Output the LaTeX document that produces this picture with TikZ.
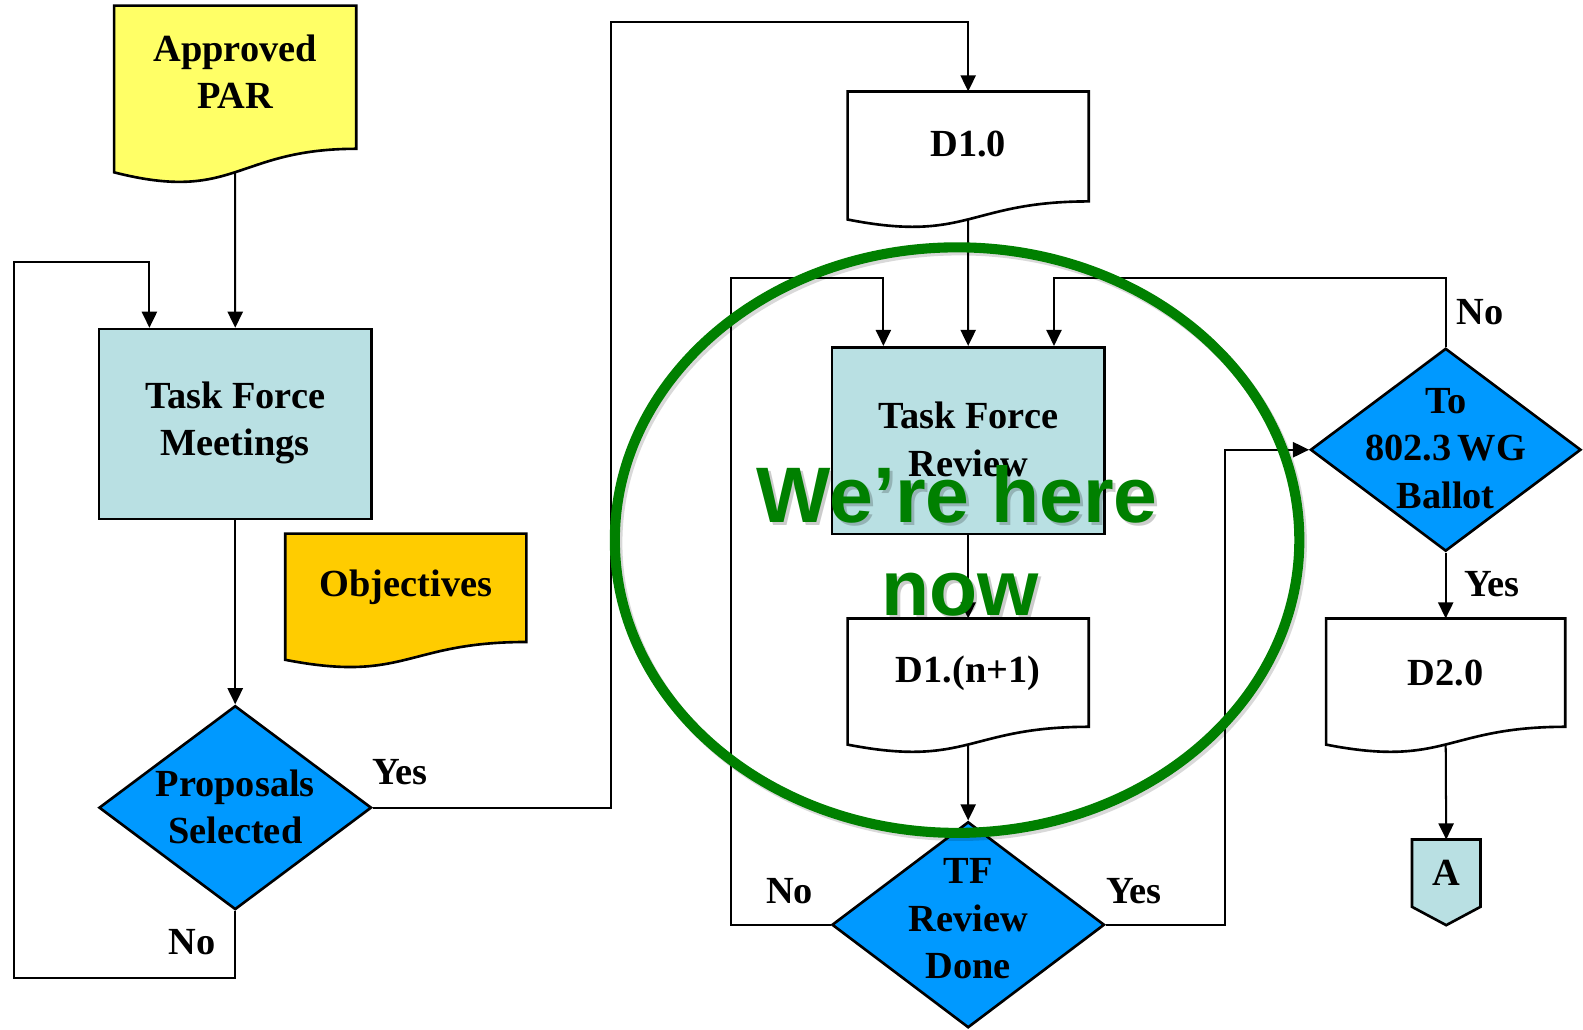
\documentclass[tikz,border=0pt]{standalone}
\usepackage{fontspec}
\setmainfont{Liberation Serif}
\newfontfamily\hereFont{Liberation Sans}
\usetikzlibrary{shapes.geometric,arrows.meta,calc}
\definecolor{lblue}{HTML}{B9E0E3}
\definecolor{parY}{HTML}{FFFF66}
\definecolor{objO}{HTML}{FFCC00}
\definecolor{dblue}{HTML}{0099FF}
\definecolor{hgreen}{HTML}{008000}
\tikzset{
  outl/.style={line width=1.3pt, draw=black},
  procbox/.style={outl, rectangle, fill=lblue, inner sep=0pt},
  decbox/.style={outl, diamond, fill=dblue, inner sep=0pt},
  docframe/.style={rectangle, inner sep=0pt, draw=none},
  txt/.style={font=\bfseries\fontsize{19}{23.5}\selectfont, align=center, inner sep=0pt},
  lbl/.style={font=\bfseries\fontsize{19}{23.5}\selectfont, inner sep=0pt},
  arr/.style={line width=1pt, -{Triangle[length=8pt,width=7.5pt]}},
  con/.style={line width=1pt},
  heretxt/.style={font=\hereFont\bfseries\fontsize{39}{46}\selectfont, text=hgreen, inner sep=0pt, anchor=base},
  heresh/.style={font=\hereFont\bfseries\fontsize{39}{46}\selectfont, text=black, opacity=0.2, inner sep=0pt, anchor=base},
}
\newcommand\docshape[2]{%
  \path[outl, fill=#2] let \p1=(#1.north west), \p2=(#1.south east) in
    (\x1,\y1) -- (\x2,\y1) -- (\x2,{\y1+0.802*((\y2)-(\y1))})
    .. controls ({0.5*\x1+0.5*\x2},{\y1+0.802*((\y2)-(\y1))}) and ({0.5*\x1+0.5*\x2},{\y1+1.1075*((\y2)-(\y1))}) ..
    (\x1,{\y1+0.934*((\y2)-(\y1))}) -- cycle;}
\begin{document}
\begin{tikzpicture}[x=0.5pt,y=-0.5pt]
\useasboundingbox (0,0) rectangle (1568,1020);

% documents
\node[docframe, minimum width=119.5pt, minimum height=88pt] (par) at (233,94) {};
\docshape{par}{parY}
\node[txt] (parT) at (233,71) {Approved\\PAR};

\node[docframe, minimum width=119pt, minimum height=66.5pt] (obj) at (402,595.5) {};
\docshape{obj}{objO}
\node[txt] (objT) at (402,582) {Objectives};

\node[docframe, minimum width=119pt, minimum height=67.5pt] (d1) at (959,158.5) {};
\docshape{d1}{white}
\node[txt] (d1T) at (959,143) {D1.0};

\node[docframe, minimum width=119pt, minimum height=66.5pt] (dn) at (959,679.5) {};
\docshape{dn}{white}
\node[txt] (dnT) at (959,667) {D1.(n+1)};

\node[docframe, minimum width=118pt, minimum height=66.5pt] (d2) at (1432,679.5) {};
\docshape{d2}{white}
\node[txt] (d2T) at (1432,667) {D2.0};

% process boxes
\node[procbox, minimum width=135pt, minimum height=94pt] (tfm) at (233,420) {};
\node[txt] (tfmT) at (233,419) {Task Force\\Meetings};
\node[procbox, minimum width=135pt, minimum height=92.5pt] (tfr) at (959,436.5) {};
\node[txt] (tfrT) at (959,435) {Task Force\\Review};

% decisions
\node[decbox, minimum width=135pt, minimum height=101pt] (prop) at (233,800) {};
\node[txt] (propT) at (233,799) {Proposals\\Selected};
\node[decbox, minimum width=135pt, minimum height=102pt] (tfrd) at (959,916) {};
\node[txt] (tfrdT) at (959,910) {TF\\Review\\Done};
\node[decbox, minimum width=134pt, minimum height=100.5pt] (ballot) at (1432,445.5) {};
\node[txt] (ballotT) at (1432,444) {To\\802.3\,WG\\Ballot};

% off-page connector
\node[docframe, minimum width=33.5pt, minimum height=42pt] (aconn) at (1432.5,874) {};
\draw[outl, fill=lblue] (aconn.north west) -- (aconn.north east)
  -- ($(aconn.north east)!0.786!(aconn.south east)$) -- (aconn.south)
  -- ($(aconn.north west)!0.786!(aconn.south west)$) -- cycle;
\node[lbl] (aT) at (1432.5,865) {A};

% helper coordinates
\coordinate (parW) at ($(par.north)!0.933!(par.south)$);
\coordinate (d1W) at ($(d1.north)!0.933!(d1.south)$);
\coordinate (dnW) at ($(dn.north)!0.933!(dn.south)$);
\coordinate (d2W) at ($(d2.north)!0.933!(d2.south)$);
\coordinate (l1) at (14,969);
\coordinate (l2) at (148,260);
\coordinate (r1) at (605,22);
\coordinate (l3) at (724,275);
\coordinate (inA) at (875,275);
\coordinate (inB) at (1044,275);
\coordinate (r2) at (1213,445.5);

% connectors
\draw[arr] (parW) -- (tfm.north);
\draw[arr] (tfm.south) -- (prop.north);
\draw[arr] (prop.south) |- (l1) |- (l2) -- (l2 |- tfm.north);
\draw[arr] (prop.east) -| (r1) -| (d1.north);
\draw[arr] (d1W) -- (tfr.north);
\draw[arr] (tfrd.west) -| (l3) -- (inA) -- (inA |- tfr.north);
\draw[arr] (ballot.north) |- (inB) -- (inB |- tfr.north);
\draw[arr] (tfr.south) -- (dn.north);
\draw[arr] (dnW) -- (tfrd.north);
\draw[arr] (tfrd.east) -| (r2) -- (ballot.west);
\draw[arr] (ballot.south) -- (d2.north);
\draw[arr] (d2W) -- (aconn.north);

% labels
\node[lbl] (yes1) at (396,765) {Yes};
\node[lbl] (no1) at (190,933) {No};
\node[lbl] (no2) at (782,883) {No};
\node[lbl] (yes2) at (1123,883) {Yes};
\node[lbl] (no3) at (1466,309) {No};
\node[lbl] (yes3) at (1478,579) {Yes};

% highlight
\draw[line width=5pt, black, opacity=0.15] (950.5,538) ellipse [x radius=169.5pt, y radius=145pt];
\draw[line width=5pt, hgreen] (948,535) ellipse [x radius=169.5pt, y radius=145pt];
\node[heresh] (hereS1) at (951,521) {We’re here};
\node[heresh] (hereS2) at (954,613) {now};
\node[heretxt] (here1) at (948,518) {We’re here};
\node[heretxt] (here2) at (951,610) {now};
\end{tikzpicture}
\end{document}
